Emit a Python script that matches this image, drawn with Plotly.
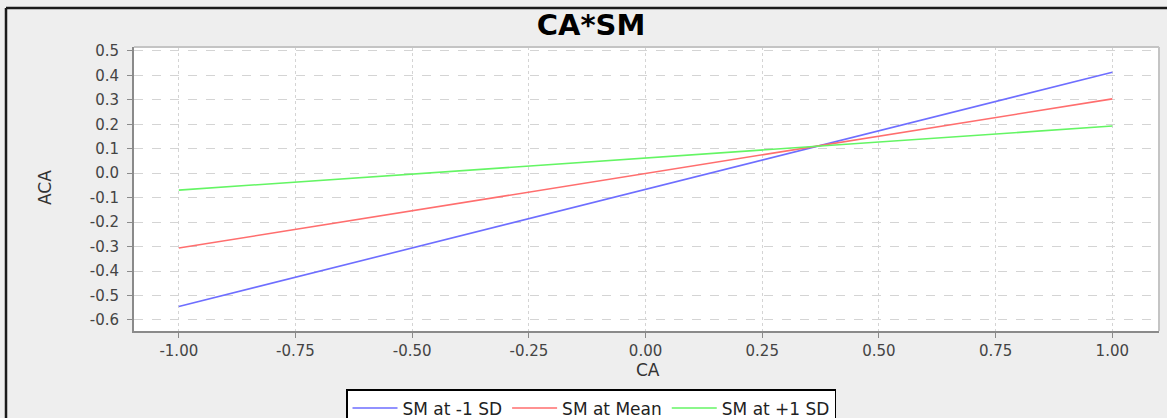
import plotly.graph_objects as go

# Simple slopes of ACA on CA at three levels of the moderator SM
ca_values = [-1.0, 1.0]
series_names = ["SM at -1 SD", "SM at Mean", "SM at +1 SD"]
aca_low_sm = [-0.545, 0.413]
aca_mean_sm = [-0.306, 0.304]
aca_high_sm = [-0.069, 0.193]
series_values = [aca_low_sm, aca_mean_sm, aca_high_sm]
series_colors = ["rgb(110,110,255)", "rgb(255,110,110)", "rgb(100,245,100)"]

x_ticks = [-1.0, -0.75, -0.5, -0.25, 0.0, 0.25, 0.5, 0.75, 1.0]
y_ticks = [0.5, 0.4, 0.3, 0.2, 0.1, 0.0, -0.1, -0.2, -0.3, -0.4, -0.5, -0.6]

W, H = 1167, 418
L, R, T, B = 134, 1159, 47, 331  # plot-area edges in pixels


def px_x(p):
    return (p - L) / (R - L)


def px_y(p):
    return (B - p) / (B - T)


fig = go.Figure()
for name, vals, col in zip(series_names, series_values, series_colors):
    fig.add_trace(go.Scatter(x=ca_values, y=vals, mode="lines", name=name,
                             line=dict(color=col, width=1.6)))

font_family = "DejaVu Sans, Arial, sans-serif"
tick_font = dict(family=font_family, size=15, color="#444444")

fig.update_layout(
    width=W, height=H,
    margin=dict(l=L, r=W - R, t=T, b=H - B, autoexpand=False),
    paper_bgcolor="#EEEEEE",
    plot_bgcolor="#FFFFFF",
    showlegend=True,
    title=dict(text="<b>CA*SM</b>", x=591 / W, xanchor="center",
               y=1 - 25 / H, yanchor="middle", yref="container",
               font=dict(family=font_family, size=29, color="#000000")),
    legend=dict(orientation="h", x=px_x(591), xanchor="center",
                y=px_y(389), yanchor="top",
                bgcolor="#FFFFFF", bordercolor="#000000", borderwidth=1.5,
                font=dict(family=font_family, size=17, color="#222222"),
                itemwidth=45, tracegroupgap=0),
    xaxis=dict(range=[-1.096, 1.1], tickvals=x_ticks,
               ticktext=[f"{v:.2f}" for v in x_ticks],
               showgrid=True, gridcolor="#D4D4D4", griddash="dot", gridwidth=1,
               zeroline=False, showline=True, linecolor="#8A8A8A", linewidth=2,
               ticks="outside", ticklen=5, tickcolor="#8A8A8A",
               tickfont=tick_font, ticklabelstandoff=0),
    yaxis=dict(range=[-0.645, 0.516], tickvals=y_ticks,
               ticktext=[f"{v:.1f}" for v in y_ticks],
               showgrid=True, gridcolor="#D4D4D4", griddash="dash", gridwidth=1,
               zeroline=False, showline=True, linecolor="#8A8A8A", linewidth=2,
               ticks="outside", ticklen=5, tickcolor="#8A8A8A",
               tickfont=tick_font, ticklabelstandoff=5),
)

# Axis titles
fig.add_annotation(text="CA", xref="paper", yref="paper", x=px_x(648), y=px_y(370),
                   xanchor="center", yanchor="middle", showarrow=False,
                   font=dict(family=font_family, size=17, color="#333333"))
fig.add_annotation(text="ACA", xref="paper", yref="paper", x=px_x(45), y=px_y(188),
                   xanchor="center", yanchor="middle", textangle=-90, showarrow=False,
                   font=dict(family=font_family, size=17, color="#333333"))

# Light border on the top and right of the plot area
fig.add_shape(type="line", xref="paper", yref="paper", x0=0, x1=1, y0=1, y1=1,
              line=dict(color="#C4C4C4", width=2))
fig.add_shape(type="line", xref="paper", yref="paper", x0=1, x1=1, y0=0, y1=1,
              line=dict(color="#C4C4C4", width=2))

# Dark frame around the chart panel
fig.add_shape(type="line", xref="paper", yref="paper",
              x0=px_x(6), x1=px_x(1300), y0=px_y(8), y1=px_y(8),
              line=dict(color="#1A1A1A", width=2.5))
fig.add_shape(type="line", xref="paper", yref="paper",
              x0=px_x(6), x1=px_x(6), y0=px_y(8), y1=px_y(500),
              line=dict(color="#1A1A1A", width=2.5))

fig.write_html("out.html")
